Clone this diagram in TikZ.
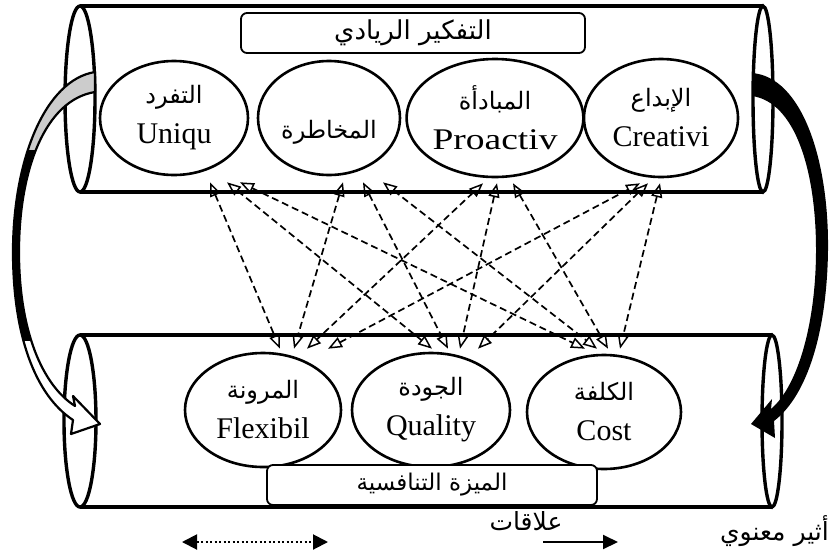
\documentclass[tikz,border=0pt]{standalone}
\usepackage{fontspec}
\usepackage{graphicx}
\setmainfont{Liberation Serif}
\newfontfamily\arabicfont[Script=Arabic]{DejaVu Sans}
\TeXXeTstate=1
\usetikzlibrary{shapes.geometric,arrows.meta,calc}
% Arabic run, right to left, optional size in pt
\newcommand{\artxt}[2][24]{{\arabicfont\fontsize{#1}{#1}\selectfont\beginR #2\endR}}

\begin{document}
\begin{tikzpicture}[x=1pt,y=-1pt,
  tube/.style={line width=3.4pt},
  tubeend/.style={line width=3.4pt},
  factor/.style={ellipse, draw, line width=2.6pt, fill=white, inner sep=0pt,
    align=center, font=\fontsize{30}{40}\selectfont},
  banner/.style={draw, rounded corners=6pt, line width=1.8pt, fill=white, inner sep=0pt},
  relation/.style={line width=1.7pt, dash pattern=on 7pt off 4pt,
    {Triangle[open,length=14pt,width=11pt,line width=1.5pt]}-{Triangle[open,length=14pt,width=11pt,line width=1.5pt]}},
  shapeline/.style={line width=2.2pt, line join=round},
]
\useasboundingbox (0,0) rectangle (829,552);

% ---- upper tube: entrepreneurial thinking ----
\draw[tube] (80,6) -- (763,6) (80,192) -- (763,192);
\draw[tubeend] (80,99) ellipse [x radius=15, y radius=93];
\draw[tubeend] (763,99) ellipse [x radius=10, y radius=93];

\node[banner, minimum width=344pt, minimum height=40pt] (thinking) at (413,33)
  {\artxt[26]{التفكير الريادي}};

\node[factor, minimum width=148pt, minimum height=114pt] (uniq) at (174,118)
  {\artxt{التفرد}\\Uniqu};
\node[factor, minimum width=142pt, minimum height=114pt, text height=40pt, text depth=0pt] (risk) at (329,118)
  {\artxt{المخاطرة}};
\node[factor, minimum width=160pt, minimum height=118pt] (proact) at (495,118)
  {\artxt{المبادأة}\\\scalebox{1.25}[1]{Proactiv}};
\node[factor, minimum width=154pt, minimum height=118pt] (creat) at (661,118)
  {\artxt{الإبداع}\\Creativi};

% ---- lower tube: competitive advantage ----
\draw[tube] (80,335) -- (772,335) (80,507) -- (772,507);
\draw[tubeend] (80,421) ellipse [x radius=16, y radius=86];
\draw[tubeend] (772,421) ellipse [x radius=10, y radius=86];

\node[factor, minimum width=156pt, minimum height=114pt] (flex) at (263,410)
  {\artxt{المرونة}\\Flexibil};
\node[factor, minimum width=158pt, minimum height=114pt] (qual) at (431,410)
  {\artxt{الجودة}\\Quality};
\node[factor, minimum width=154pt, minimum height=114pt] (cost) at (604,412)
  {\artxt{الكلفة}\\Cost};

\node[banner, minimum width=330pt, minimum height=40pt] (advantage) at (432,485)
  {\artxt[23]{الميزة التنافسية}};

% ---- dashed two-way relations ----
\draw[relation] ($(uniq.south)+(36,6)$)   -- ($(flex.north)+(17,-3)$);
\draw[relation] ($(uniq.south)+(53,6)$)   -- ($(qual.north)+(1,-3)$);
\draw[relation] ($(uniq.south)+(66,6)$)   -- ($(cost.north)+(-19,-5)$);
\draw[relation] ($(risk.south)+(14,6)$)   -- ($(flex.north)+(31,-3)$);
\draw[relation] ($(risk.south)+(34,6)$)   -- ($(qual.north)+(17,-3)$);
\draw[relation] ($(risk.south)+(54,6)$)   -- ($(cost.north)+(-7,-5)$);
\draw[relation] ($(proact.south)+(-12,5)$) -- ($(flex.north)+(44,-3)$);
\draw[relation] ($(proact.south)+(2,5)$)   -- ($(qual.north)+(29,-3)$);
\draw[relation] ($(proact.south)+(18,5)$)  -- ($(cost.north)+(4,-5)$);
\draw[relation] ($(creat.south)+(-21,5)$)  -- ($(flex.north)+(65,-3)$);
\draw[relation] ($(creat.south)+(-13,5)$)  -- ($(qual.north)+(47,-3)$);
\draw[relation] ($(creat.south)+(-1,5)$)   -- ($(cost.north)+(16,-5)$);

% ---- curved band arrows between the tubes ----
\def\leftband{(95,72) .. controls (45,80) and (13,160) .. (13,252)
  .. controls (13,335) and (35,395) .. (73,420) -- (71,434) -- (100,424)
  -- (73,396) -- (75,406) .. controls (42,385) and (19,330) .. (19,252)
  .. controls (19,170) and (45,100) .. (95,92) -- cycle}
\fill[white] \leftband;
\begin{scope}
  \clip (0,0) rectangle (120,150);
  \fill[gray!40] \leftband;
\end{scope}
\begin{scope}
  \clip (0,150) rectangle (120,340);
  \fill[black] \leftband;
\end{scope}
\draw[shapeline] \leftband;

\fill[black] (752,73) .. controls (802,77) and (829,160) .. (828,250)
  .. controls (827,330) and (808,395) .. (774,421) -- (775,438) -- (751,424)
  -- (772,399) -- (771,409) .. controls (799,385) and (816,320) .. (816,250)
  .. controls (816,170) and (795,102) .. (752,96) -- cycle;

% ---- legend ----
\coordinate (dotl) at (182,542);
\coordinate (dotr) at (328,542);
\draw[line width=2pt, dash pattern=on 2pt off 2.5pt,
  {Triangle[length=15pt,width=15pt]}-{Triangle[length=15pt,width=15pt]}] (dotl) -- (dotr);

\coordinate (sol) at (543,542);
\coordinate (sor) at (618,542);
\draw[line width=2pt, -{Triangle[length=15pt,width=14pt]}] (sol) -- (sor);
\node[anchor=base, inner sep=0pt] (rellabel) at (526,530) {\artxt[25]{علاقات}};
\node[anchor=base east, inner sep=0pt] (inflabel) at (829,540) {\artxt[25]{أثير معنوي}};
\end{tikzpicture}
\end{document}
